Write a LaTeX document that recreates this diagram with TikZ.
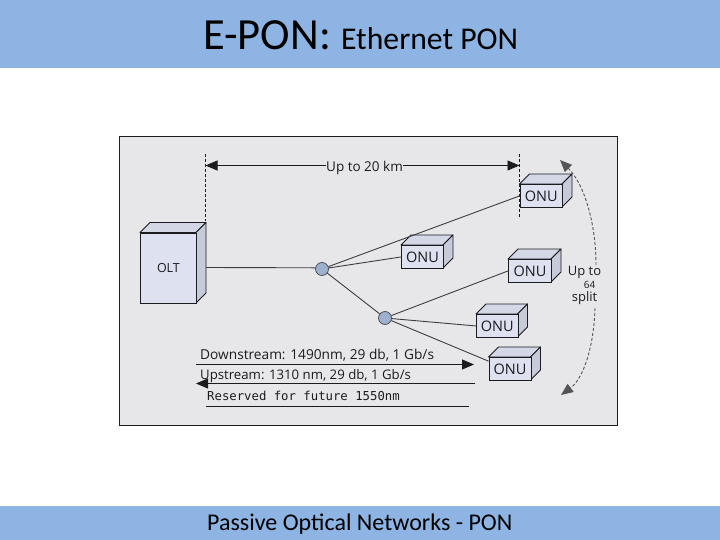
\documentclass[tikz,border=0pt]{standalone}
\usepackage{fontspec}
\setmainfont{Carlito}
\newfontfamily\dgm{Open Sans}
\newfontfamily\mono{DejaVu Sans Mono}
\usetikzlibrary{arrows.meta}
\definecolor{banner}{HTML}{8DB4E2}
\definecolor{panel}{HTML}{E7E7E9}
\definecolor{front}{HTML}{DDE1F0}
\definecolor{topf}{HTML}{D3D7E6}
\definecolor{sidef}{HTML}{C6CAD9}
\definecolor{ink}{HTML}{1C1C20}
\definecolor{split}{HTML}{9DB0CE}
\tikzset{
  x=1pt,y=-1pt,
  boxface/.style={draw=ink,line width=0.9pt,fill=front,inner sep=0pt,text=ink,font=\dgm\fontsize{14.5}{16}\selectfont},
  cubetop/.style={draw=ink,line width=0.9pt,fill=topf,line join=round},
  cubeside/.style={draw=ink,line width=0.9pt,fill=sidef,line join=round},
  fibre/.style={draw=ink!85,line width=0.9pt},
  splitter/.style={circle,draw=ink!80,line width=0.7pt,fill=split,minimum size=13pt,inner sep=0pt},
  arrowln/.style={draw=ink,line width=0.9pt,-{Triangle[length=12pt,width=10pt]}},
  guide/.style={draw=ink,line width=0.7pt,dash pattern=on 3pt off 2pt},
  curved/.style={draw=ink!75,line width=0.9pt,dash pattern=on 3pt off 2pt},
  lbl/.style={inner sep=0pt,text=ink,font=\dgm\fontsize{13.5}{15}\selectfont},
  plainline/.style={draw=ink,line width=0.9pt},
  ttl/.style={inner sep=0pt,anchor=base west,text=black},
}
\newcommand{\cubebox}[7]{% name, x, y, w, h, depth, label
  \path[cubetop] (#2,#3) -- ++(#6,-#6) -- ++(#4,0) -- ++(-#6,#6) -- cycle;
  \path[cubeside] (#2+#4,#3) -- ++(#6,-#6) -- ++(0,#5) -- ++(-#6,#6) -- cycle;
  \node[boxface,anchor=north west,minimum width=#4 pt,minimum height=#5 pt] (#1) at (#2,#3) {#7};
}
\begin{document}
\begin{tikzpicture}
\useasboundingbox (0,0) rectangle (720,540);
\fill[white] (0,0) rectangle (720,540);
\fill[banner] (0,0) rectangle (720,68);
\fill[banner] (0,506) rectangle (720,540);
\node[ttl] (title) at (203,50) {\fontsize{44.5}{48}\selectfont E-PON: \fontsize{31.7}{34}\selectfont Ethernet PON};
\node[ttl] (foot) at (207,530) {\fontsize{24}{26}\selectfont Passive Optical Networks - PON};
\path[fill=panel,draw=ink,line width=0.9pt] (119.5,136.5) rectangle (617.5,425.5);

% guides
\coordinate (gAt) at (205.5,154);
\coordinate (gAb) at (205.5,221);
\coordinate (gBt) at (519.5,154);
\coordinate (gBb) at (519.5,217);
\draw[guide] (gAt) -- (gAb);
\draw[guide] (gBt) -- (gBb);

% distance
\node[lbl] (dist) at (364.5,168) {Up to 20 km};
\coordinate (dl) at (205.5,165.5);
\coordinate (dr) at (519.5,165.5);
\draw[arrowln] (dist.west |- dl) -- (dl);
\draw[arrowln] (dist.east |- dr) -- (dr);

% fibres first, boxes on top
\coordinate (oltport) at (206,267.5);
\node[splitter] (s1) at (322,269) {};
\node[splitter] (s2) at (385,318) {};

\cubebox{olt}{140}{232.5}{56}{70.5}{10}{\fontsize{12.5}{14}\selectfont OLT}
\draw[draw=ink,line width=1.6pt] (140,232.5) -- (196,232.5);
\cubebox{onuA}{519.5}{184}{42.5}{23}{10}{ONU}
\cubebox{onuB}{401}{245}{42}{23}{10}{ONU}
\cubebox{onuC}{508}{259}{43}{23}{10}{ONU}
\cubebox{onuD}{476}{314}{41.5}{23}{10}{ONU}
\cubebox{onuE}{488.5}{357}{42}{23}{10}{ONU}

\draw[fibre] (oltport) -- (s1.170);
\draw[fibre] (s1) -- (onuA.west);
\draw[fibre] (s1) -- (onuB.west);
\draw[fibre] (s1) -- (s2);
\draw[fibre] (s2) -- (onuC.west);
\draw[fibre] (s2) -- (onuD.west);
\draw[fibre] (s2) -- (onuE.160);

% split label and curved arrows
\node[lbl,font=\dgm\fontsize{13}{15}\selectfont] (up) at (584.5,272.5) {Up to};
\node[inner sep=0pt,text=ink,font=\dgm\fontsize{10}{12}\selectfont] (n64) at (589.5,285) {64};
\node[lbl,font=\dgm\fontsize{13}{15}\selectfont] (spl) at (584.5,298.5) {split};
\coordinate (ca) at (560,160);
\coordinate (cb) at (561,395);
\draw[curved,-{Triangle[length=12pt,width=10pt]}] (596,265) .. controls (596,225) and (585,185) .. (ca);
\draw[curved,-{Triangle[length=12pt,width=10pt]}] (595,308) .. controls (594,345) and (584,378) .. (cb);

% wavelengths
\node[lbl,anchor=base west,font=\dgm\fontsize{13.7}{15}\selectfont] (down) at (200,359) {Downstream: 1490nm, 29 db, 1 Gb/s};
\node[lbl,anchor=base west,font=\dgm\fontsize{13.2}{15}\selectfont] (ups) at (200,379) {Upstream: 1310 nm, 29 db, 1 Gb/s};
\node[lbl,anchor=base west,font=\mono\fontsize{12.3}{14}\selectfont] (res) at (207,400) {Reserved for future 1550nm};
\coordinate (dsa) at (196,364.5);
\coordinate (dsb) at (474,364.5);
\coordinate (usa) at (475,383.5);
\coordinate (usb) at (196,383.5);
\coordinate (rsa) at (206,406);
\coordinate (rsb) at (469,406);
\draw[arrowln] (dsa) -- (dsb);
\draw[arrowln] (usa) -- (usb);
\draw[plainline] (rsa) -- (rsb);
\end{tikzpicture}
\end{document}
